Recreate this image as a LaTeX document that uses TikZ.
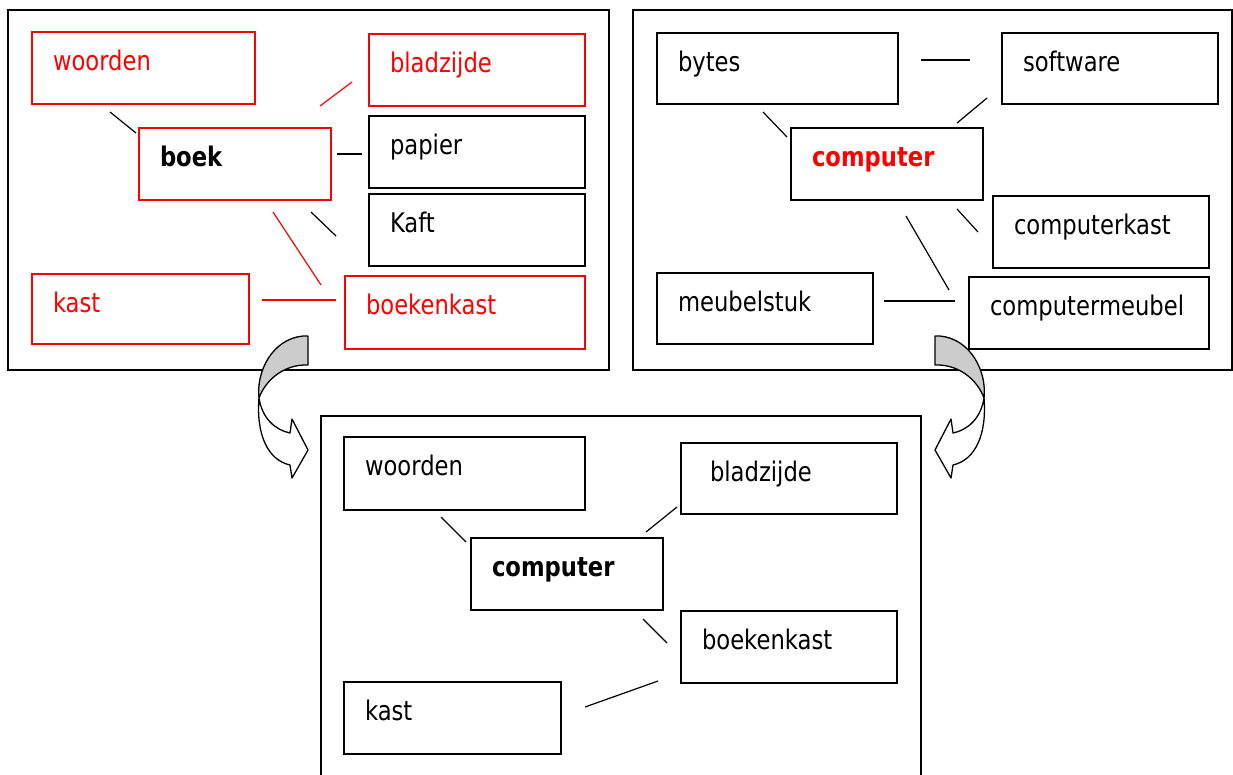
\documentclass[tikz,border=0pt]{standalone}
\usepackage{fontspec}
\setmainfont{DejaVu Sans}[FakeStretch=0.84]
\usepackage{tikz}
\usetikzlibrary{calc}
\tikzstyle{woord} = [draw, anchor=north west, line width=1.5pt, outer sep=0pt,
        inner xsep=21pt, inner ysep=0pt, text height=38pt, align=left,
        font={\fontsize{27}{32}\selectfont}]
\tikzstyle{rood} = [draw=red, text=red]
\tikzstyle{kern} = [font={\fontsize{27}{32}\selectfont\bfseries}]
\tikzstyle{kader} = [line width=1.5pt]
\tikzstyle{lijn} = [line width=1.2pt]
\tikzstyle{pijl} = [line width=1.3pt, line join=round]

\begin{document}
\begin{tikzpicture}[x=1pt, y=-1pt]
        \useasboundingbox (0,0) rectangle (1233,774);
        % kaders
        \draw [kader] (8,10) rectangle (609,370);
        \draw [kader] (633,10) rectangle (1232,370);
        \draw [kader] (321,416) rectangle (921,790);
        % boek
        \node [woord, rood, text width=181pt, text depth=34pt] (woorden) at (32,32) {woorden};
        \node [woord, rood, text width=174pt, text depth=34pt] (bladzijde) at (369,34) {bladzijde};
        \node [woord, rood, kern, text=black, text width=150pt, text depth=34pt] (boek) at (139,128) {boek};
        \node [woord, text width=174pt, text depth=34pt] (papier) at (369,116) {papier};
        \node [woord, text width=174pt, text depth=34pt] (kaft) at (369,194) {Kaft};
        \node [woord, rood, text width=175pt, text depth=32pt] (kast) at (32,274) {kast};
        \node [woord, rood, text width=198pt, text depth=35pt] (boekenkast) at (345,276) {boekenkast};
        \draw [lijn] ($(woorden.south west)+(78,8)$) -- ($(boek.north west)+(-3,5)$);
        \draw [lijn, red] ($(boek.north east)+(-11,-22)$) -- ($(bladzijde.south west)+(-17,-24)$);
        \draw [lijn] ($(boek.north east)+(6,26)$) -- ($(papier.north west)+(-7,38)$);
        \draw [lijn] ($(boek.south east)+(-20,12)$) -- ($(kaft.north west)+(-33,42)$);
        \draw [lijn, red] ($(boek.south east)+(-58,12)$) -- ($(boekenkast.north west)+(-24,9)$);
        \draw [lijn, red] ($(kast.north east)+(13,26)$) -- ($(boekenkast.north west)+(-9,24)$);
        % computer
        \node [woord, text width=199pt, text depth=33pt] (bytes) at (657,33) {bytes};
        \node [woord, text width=174pt, text depth=33pt] (software) at (1002,33) {software};
        \node [woord, kern, text=red, text width=150pt, text depth=34pt] (computer) at (791,128) {computer};
        \node [woord, text width=174pt, text depth=34pt] (computerkast) at (993,196) {computerkast};
        \node [woord, text width=174pt, text depth=33pt] (meubelstuk) at (657,273) {meubelstuk};
        \node [woord, text width=198pt, text depth=34pt] (computermeubel) at (969,277) {computermeubel};
        \draw [lijn] ($(bytes.north east)+(23,27)$) -- ($(software.north west)+(-32,27)$);
        \draw [lijn] ($(bytes.south west)+(106,8)$) -- ($(computer.north west)+(-4,9)$);
        \draw [lijn] ($(software.south west)+(-15,-6)$) -- ($(computer.north east)+(-26,-5)$);
        \draw [lijn] ($(computer.south east)+(-26,9)$) -- ($(computerkast.north west)+(-15,36)$);
        \draw [lijn] ($(computer.south)+(19,16)$) -- ($(computermeubel.north west)+(-20,13)$);
        \draw [lijn] ($(meubelstuk.north east)+(11,28)$) -- ($(computermeubel.north west)+(-14,24)$);
        % samen
        \node [woord, text width=199pt, text depth=35pt] (woorden2) at (344,437) {woorden};
        \node [woord, text width=174pt, text depth=33pt] (bladzijde2) at (681,443) {\hspace*{8pt}bladzijde};
        \node [woord, kern, text width=150pt, text depth=34pt] (computer2) at (471,538) {computer};
        \node [woord, text width=174pt, text depth=34pt] (boekenkast2) at (681,611) {boekenkast};
        \node [woord, text width=175pt, text depth=34pt] (kast2) at (344,682) {kast};
        \draw [lijn] ($(woorden2.south west)+(97,7)$) -- ($(computer2.north west)+(-5,4)$);
        \draw [lijn] ($(bladzijde2.south west)+(-4,-7)$) -- ($(computer2.north east)+(-17,-6)$);
        \draw [lijn] ($(computer2.south east)+(-20,9)$) -- ($(boekenkast2.north west)+(-14,32)$);
        \draw [lijn] ($(kast2.north east)+(24,25)$) -- ($(boekenkast2.south west)+(-23,-2)$);
        % pijlen
        \foreach \spiegel/\schuif in {1/0, -1/1243} {
            \begin{scope}[xshift=\schuif, xscale=\spiegel]
                \draw [pijl, fill=black!20] (308,336) -- (308,365)
                    .. controls (285,364) and (266,379) .. (259,398)
                    .. controls (256,372) and (272,339) .. (303,336) -- cycle;
                \draw [pijl, fill=white] (259,398)
                    .. controls (262,418) and (275,430) .. (290,433)
                    -- (292,419) -- (308,450) -- (292,478) -- (290,465)
                    .. controls (268,460) and (256,435) .. (259,398) -- cycle;
            \end{scope}
        }
    \end{tikzpicture}
\end{document}
